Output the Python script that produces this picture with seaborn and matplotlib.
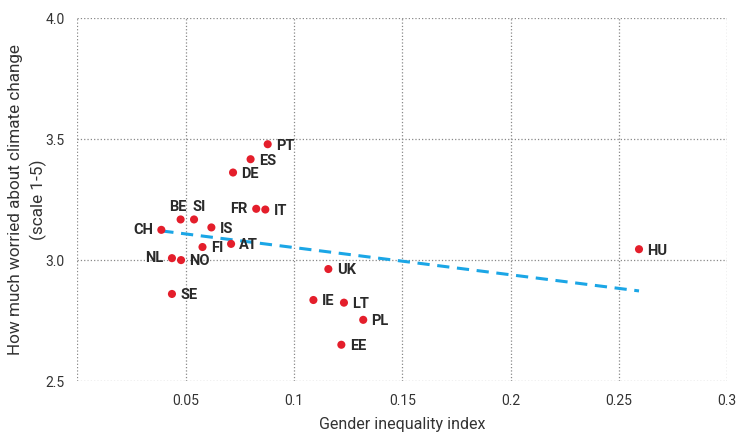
import matplotlib
matplotlib.use('Agg')
import numpy as np
import pandas as pd
import matplotlib.pyplot as plt
import seaborn as sns

# values
countries = ['PT', 'ES', 'DE', 'FR', 'IT', 'BE', 'SI', 'IS', 'CH', 'FI',
             'AT', 'NL', 'NO', 'SE', 'UK', 'IE', 'LT', 'PL', 'EE', 'HU']
gender_index = [0.0879, 0.0800, 0.0719, 0.0826, 0.0868, 0.0477, 0.0539, 0.0619, 0.0388, 0.0578,
                0.0710, 0.0437, 0.0479, 0.0437, 0.1159, 0.1090, 0.1231, 0.1320, 0.1219, 0.2593]
worry = [3.479, 3.417, 3.362, 3.212, 3.209, 3.168, 3.168, 3.135, 3.125, 3.054,
         3.067, 3.008, 3.000, 2.860, 2.963, 2.835, 2.824, 2.753, 2.650, 3.045]

x_ticks = [0.05, 0.1, 0.15, 0.2, 0.25, 0.3]
x_tick_labels = ['0.05', '0.1', '0.15', '0.2', '0.25', '0.3']
y_ticks = [2.5, 3.0, 3.5, 4.0]
y_tick_labels = ['2.5', '3.0', '3.5', '4.0']

df = pd.DataFrame({'country': countries, 'gii': gender_index, 'worry': worry})

sns.set_style('white')
plt.rcParams['font.family'] = ['Roboto', 'DejaVu Sans']

fig = plt.figure(figsize=(7.36, 4.33), dpi=100)
ax = fig.add_axes([0.105, 0.12, 0.883, 0.838])

# OLS trend over the data range
sns.regplot(data=df, x='gii', y='worry', scatter=False, ci=None, ax=ax,
            line_kws=dict(color='#1ba6e6', lw=2.2, ls=(0, (4, 2.5)), zorder=2))
sns.scatterplot(data=df, x='gii', y='worry', color='#e41e2b', s=34,
                edgecolor='none', ax=ax, zorder=3)

# label placement (offset in points, alignment)
left_side = {'CH', 'NL', 'FR'}
above = {'BE': (-2, 9), 'SI': (4, 9)}
lab_kw = dict(textcoords='offset points', va='center', fontsize=10.5,
              fontweight='bold', color='#2a2a2a')
for c, gx, wy in zip(countries, gender_index, worry):
    if c in above:
        ax.annotate(c, (gx, wy), xytext=above[c], ha='center', **lab_kw)
    elif c in left_side:
        ax.annotate(c, (gx, wy), xytext=(-6, 0), ha='right', **lab_kw)
    else:
        ax.annotate(c, (gx, wy), xytext=(6, -1), ha='left', **lab_kw)

ax.set_xlim(0, 0.3)
ax.set_ylim(2.5, 4.0)
ax.set_xticks(x_ticks)
ax.set_xticklabels(x_tick_labels)
ax.set_yticks(y_ticks)
ax.set_yticklabels(y_tick_labels)

for s in ax.spines.values():
    s.set_visible(False)
ax.grid(True, ls=':', color='#888888', lw=0.9)
ax.axvline(0, ls=':', color='#888888', lw=0.9)
ax.tick_params(length=0, labelsize=10, labelcolor='#333333', pad=9)

ax.set_xlabel('Gender inequality index', fontsize=11.5, color='#333333', labelpad=7)
ax.set_ylabel('How much worried about climate change\n(scale 1-5)', fontsize=12.3,
              color='#333333', labelpad=-1, linespacing=1.5)

fig.savefig('out.png', dpi=100)
